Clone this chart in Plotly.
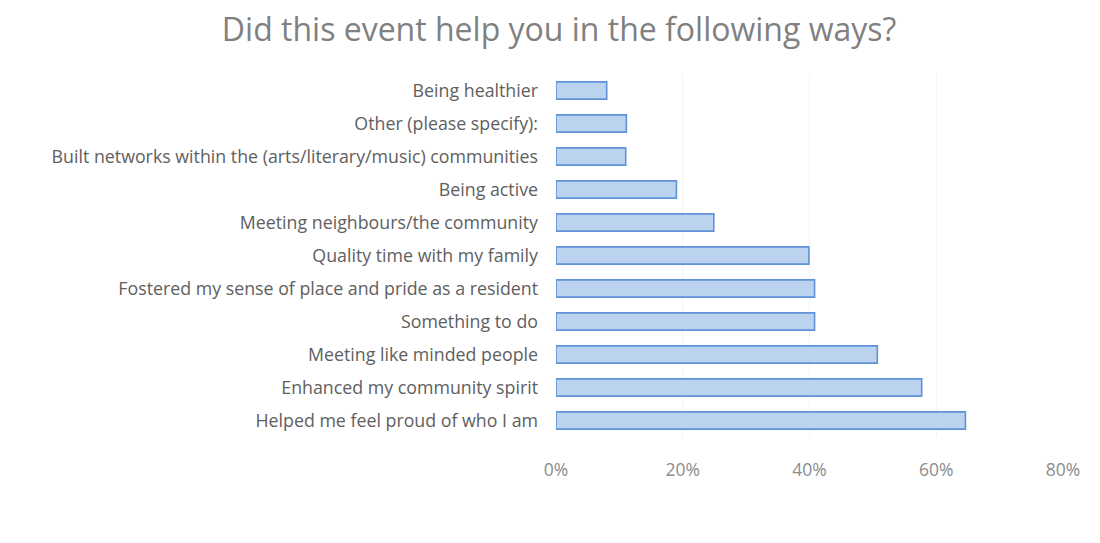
import plotly.graph_objects as go

categories = [
    "Helped me feel proud of who I am",
    "Enhanced my community spirit",
    "Meeting like minded people",
    "Something to do",
    "Fostered my sense of place and pride as a resident",
    "Quality time with my family",
    "Meeting neighbours/the community",
    "Being active",
    "Built networks within the (arts/literary/music) communities",
    "Other (please specify):",
    "Being healthier",
]
values = [64.6, 57.7, 50.7, 40.8, 40.8, 39.9, 24.9, 19.0, 11.0, 11.1, 8.0]
tick_vals = [0, 20, 40, 60, 80]
tick_text = ["0%", "20%", "40%", "60%", "80%"]

fig = go.Figure(go.Bar(
    y=categories, x=values, orientation="h",
    marker=dict(color="#bcd3ef", line=dict(color="#5f93d8", width=1.6)),
    width=0.52,
))

fig.update_layout(
    width=1100, height=543,
    paper_bgcolor="white", plot_bgcolor="white",
    margin=dict(l=548, r=45, t=66, b=114),
    title=dict(text="Did this event help you in the following ways?",
               x=0.501, xanchor="center", y=1 - 22 / 543, yanchor="middle",
               font=dict(family="Open Sans", size=32, color="#808080")),
    font=dict(family="Open Sans", color="#5a5a5a"),
    showlegend=False,
)
fig.update_xaxes(range=[0, 80], tickvals=tick_vals, ticktext=tick_text,
                 showgrid=True, gridcolor="#f4f4f4", zeroline=False,
                 showline=False, ticklabelstandoff=20,
                 tickfont=dict(family="Open Sans", size=17.5, color="#8c8c8c"))
fig.update_yaxes(showgrid=False, showline=False, zeroline=False,
                 ticklabelstandoff=17,
                 tickfont=dict(family="Open Sans", size=17.8, color="#606060"))

fig.write_html("out.html")
